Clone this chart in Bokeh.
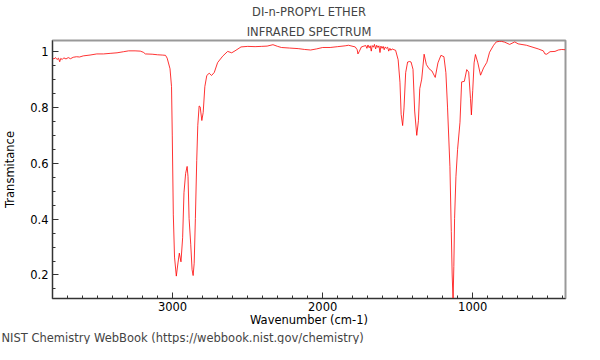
from bokeh.plotting import figure
from bokeh.models import Range1d, FixedTicker, Title, CustomJSTickFormatter
from bokeh.embed import file_html
from bokeh.resources import INLINE

# Spectrum (wavenumber cm-1, transmittance)
wavenumber = [3800, 3790, 3780, 3770, 3760, 3752, 3745, 3735, 3725, 3710, 3695, 3680, 3662,
              3640, 3620, 3595, 3550, 3505, 3460, 3416, 3370, 3326, 3293, 3250, 3215, 3195,
              3181, 3136, 3100, 3069, 3047, 3036, 3017, 3007, 3002, 2995, 2987, 2975, 2964,
              2955, 2944, 2933, 2924, 2913, 2903, 2897, 2890, 2879, 2870, 2863, 2856, 2848,
              2839, 2832, 2823, 2816, 2805, 2796, 2785, 2772, 2756, 2740, 2722, 2700, 2666,
              2633, 2606, 2584, 2544, 2499, 2450, 2409, 2370, 2331, 2300, 2275, 2220, 2163,
              2120, 2080, 2040, 2000, 1950, 1900, 1850, 1828, 1783, 1770, 1765, 1755, 1742,
              1725, 1713, 1705, 1698, 1690, 1683, 1676, 1670, 1662, 1655, 1647, 1640, 1632,
              1625, 1618, 1612, 1604, 1597, 1590, 1583, 1575, 1567, 1560, 1552, 1545, 1537,
              1525, 1514, 1497, 1485, 1477, 1467, 1458, 1447, 1434, 1420, 1411, 1398, 1387,
              1373, 1362, 1353, 1340, 1324, 1309, 1291, 1272, 1250, 1232, 1212, 1192, 1179,
              1168, 1152, 1143, 1137, 1131, 1126, 1121, 1112, 1101, 1085, 1074, 1056, 1040,
              1027, 1015, 1009, 1000, 991, 982, 966, 948, 928, 906, 888, 861, 843, 821, 809,
              787, 754, 720, 698, 642, 564, 530, 519, 507, 485, 452, 430, 407, 385]
transmittance = [0.975, 0.972, 0.977, 0.970, 0.975, 0.962, 0.974, 0.970, 0.976, 0.972, 0.977,
                 0.973, 0.978, 0.980, 0.979, 0.983, 0.986, 0.990, 0.990, 0.992, 0.994, 0.998,
                 1.001, 1.001, 1.000, 0.996, 0.990, 0.989, 0.987, 0.986, 0.985, 0.975, 0.937,
                 0.873, 0.700, 0.415, 0.264, 0.196, 0.243, 0.278, 0.247, 0.333, 0.494, 0.563,
                 0.588, 0.551, 0.402, 0.310, 0.219, 0.198, 0.242, 0.402, 0.609, 0.735, 0.804,
                 0.801, 0.752, 0.781, 0.873, 0.913, 0.921, 0.913, 0.924, 0.959, 0.982, 0.999,
                 0.994, 1.001, 1.015, 1.017, 1.016, 1.017, 1.018, 1.023, 1.017, 1.013, 1.011,
                 1.009, 1.006, 1.004, 1.008, 1.013, 1.013, 1.016, 1.019, 1.021, 1.015, 1.005,
                 0.990, 1.000, 1.015, 1.018, 1.020, 1.010, 1.022, 1.012, 1.019, 1.000, 1.020,
                 1.014, 1.024, 1.008, 1.021, 1.013, 1.019, 0.995, 1.018, 1.010, 1.017, 1.005,
                 1.015, 1.010, 1.014, 1.000, 1.010, 1.003, 1.008, 1.005, 1.003, 0.969, 0.889,
                 0.774, 0.734, 0.797, 0.923, 0.961, 0.963, 0.961, 0.935, 0.786, 0.699, 0.751,
                 0.866, 0.900, 0.989, 0.952, 0.937, 0.929, 0.906, 0.958, 0.985, 0.980, 0.923,
                 0.800, 0.587, 0.356, 0.200, 0.110, 0.230, 0.402, 0.551, 0.649, 0.746, 0.890,
                 0.892, 0.934, 0.925, 0.830, 0.772, 0.860, 0.958, 0.988, 0.958, 0.914, 0.940,
                 0.960, 0.996, 1.021, 1.033, 1.035, 1.035, 1.032, 1.024, 1.033, 1.026, 1.021,
                 1.008, 1.001, 0.990, 0.989, 0.998, 0.999, 1.004, 1.006, 1.005]

x_major = [1000, 2000, 3000]
x_minor = list(range(400, 3801, 100))
y_major = [0.2, 0.4, 0.6, 0.8, 1.0]
y_minor = [0.15, 0.2, 0.25, 0.3, 0.35, 0.4, 0.45, 0.5, 0.55, 0.6, 0.65, 0.7, 0.75,
           0.8, 0.85, 0.9, 0.95, 1.0]

FONT = "DejaVu Sans"
FS = "11.5px"

p = figure(width=584, height=344, output_backend="svg", toolbar_location=None,
           x_range=Range1d(3800, 382), y_range=Range1d(0.116, 1.038),
           min_border_left=51, min_border_right=19, min_border_top=40, min_border_bottom=30)

p.line(wavenumber, transmittance, line_color="#ff0000", line_width=1, line_alpha=0.8)

p.title.text = "DI-n-PROPYL ETHER"
p.title.align = "center"
p.title.text_font = FONT
p.title.text_font_size = FS
p.title.text_font_style = "normal"
p.title.standoff = 3.5
p.add_layout(Title(text="INFRARED SPECTRUM", align="center", text_font=FONT,
                   text_font_size=FS, text_font_style="normal", standoff=3.5), "above")

p.grid.visible = False
p.outline_line_color = "#999999"
p.outline_line_width = 2

p.xaxis.ticker = FixedTicker(ticks=x_major, minor_ticks=x_minor)
p.yaxis.ticker = FixedTicker(ticks=y_major, minor_ticks=y_minor)
p.yaxis.formatter = CustomJSTickFormatter(code="return String(Math.round(tick*10)/10);")
p.xaxis.axis_label = "Wavenumber (cm-1)"
p.yaxis.axis_label = "Transmitance"
for ax in (p.xaxis, p.yaxis):
    ax.major_tick_in = 6
    ax.major_tick_out = 0
    ax.minor_tick_in = 3
    ax.minor_tick_out = 0
    ax.axis_line_color = "#333333"
    ax.major_tick_line_color = "#333333"
    ax.minor_tick_line_color = "#333333"
    ax.major_label_text_font = FONT
    ax.major_label_text_font_size = FS
    ax.major_label_text_color = "#000000"
    ax.axis_label_text_font = FONT
    ax.axis_label_text_font_size = FS
    ax.axis_label_text_font_style = "normal"
    ax.axis_label_text_color = "#000000"
p.yaxis.major_label_standoff = 4
p.xaxis.major_label_standoff = 3
p.xaxis.axis_label_standoff = -1
p.yaxis.axis_label_standoff = 10

p.add_layout(Title(text="NIST Chemistry WebBook (https://webbook.nist.gov/chemistry)",
                   align="left", offset=-51, text_font=FONT, text_font_size=FS,
                   text_font_style="normal", standoff=-1), "below")

open("out.html", "w").write(file_html(p, INLINE))
